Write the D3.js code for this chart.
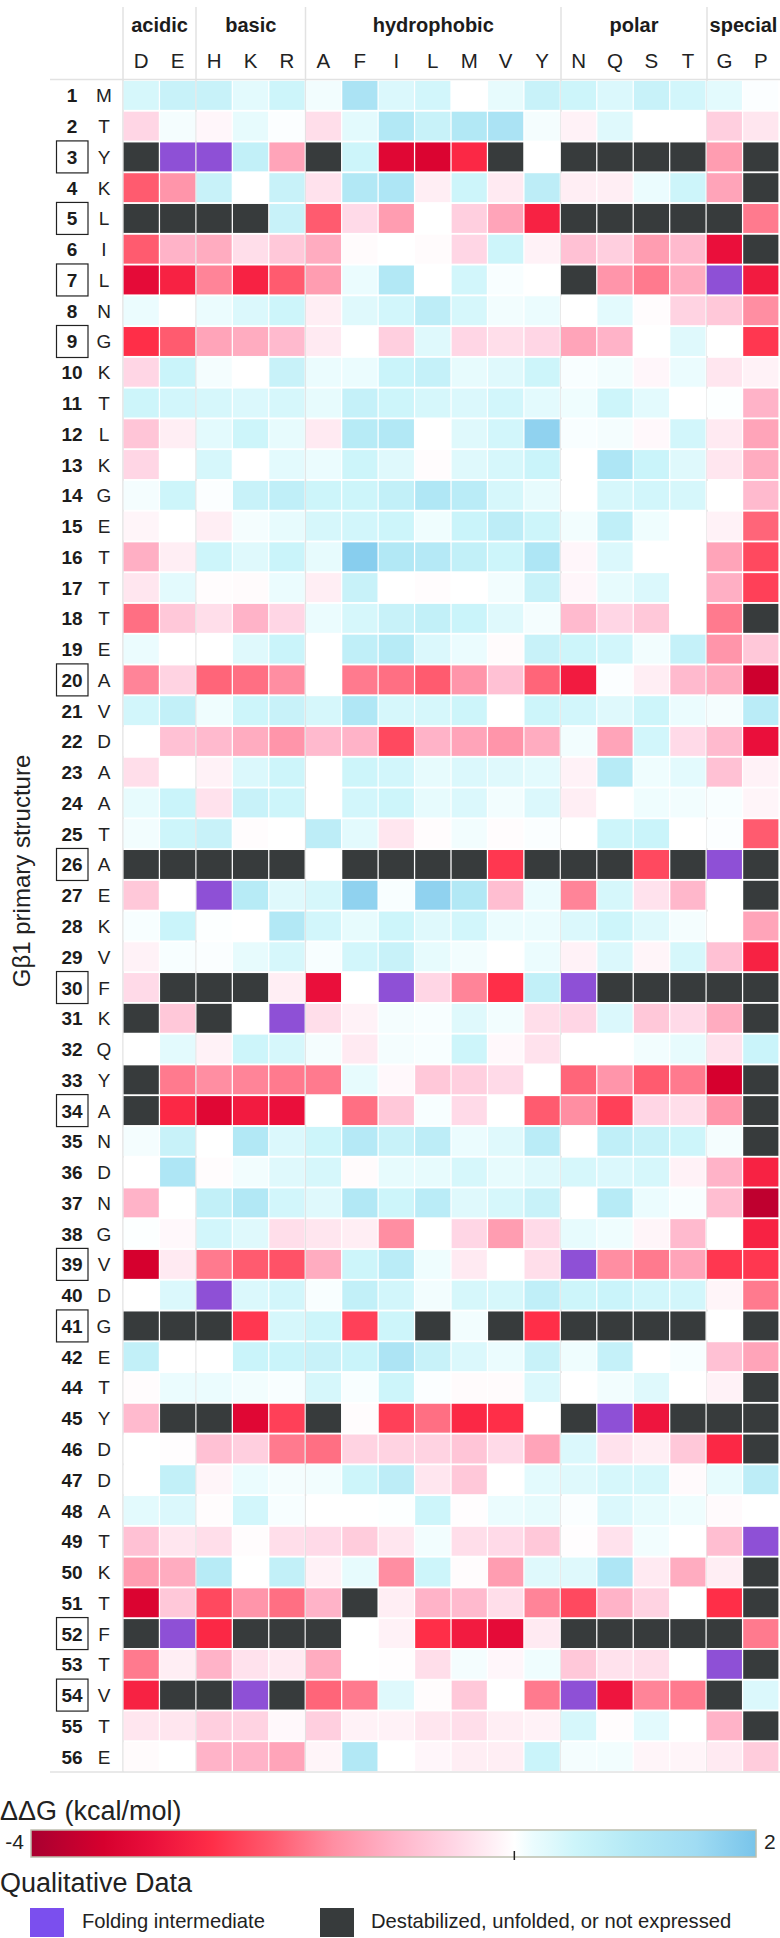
<!DOCTYPE html>
<html>
  <head>
    <meta charset="UTF-8">
    <style>
      body {
        margin: 0;
        background: white;
        font-family: "Liberation Sans", Arial, sans-serif;
        color: #222;
      }

      svg {
        display: block;
      }
    </style>
    <script src="https://d3js.org/d3.v7.min.js"></script>
  </head>

  <body>
    <svg id="chart"></svg>

    <script type="text/javascript">
      const U = 'U' // destabilized, unfolded, or not expressed
      const F = 'F' // folding intermediate

      const groupNames = ['acidic', 'basic', 'hydrophobic', 'polar', 'special']
      const groupSizes = [2, 3, 7, 4, 2]
      const mutants = ['D', 'E', 'H', 'K', 'R', 'A', 'F', 'I', 'L', 'M', 'V', 'Y', 'N', 'Q', 'S', 'T', 'G', 'P']
      const positions = [1, 2, 3, 4, 5, 6, 7, 8, 9, 10, 11, 12, 13, 14, 15, 16, 17, 18, 19, 20, 21, 22, 23, 24, 25, 26, 27, 28,
        29, 30, 31, 32, 33, 34, 35, 36, 37, 38, 39, 40, 41, 42, 44, 45, 46, 47, 48, 49, 50, 51, 52, 53, 54, 55, 56]
      const residues = ['M', 'T', 'Y', 'K', 'L', 'I', 'L', 'N', 'G', 'K', 'T', 'L', 'K', 'G', 'E', 'T', 'T', 'T', 'E', 'A', 'V', 'D', 'A', 'A', 'T', 'A', 'E', 'K',
        'V', 'F', 'K', 'Q', 'Y', 'A', 'N', 'D', 'N', 'G', 'V', 'D', 'G', 'E', 'T', 'Y', 'D', 'D', 'A', 'T', 'K', 'T', 'F', 'T', 'V', 'T', 'E']
      const boxedPositions = [3, 5, 7, 9, 20, 26, 30, 34, 39, 41, 52, 54]

      const ddG = [
        [.4, .6, .6, .25, .5, .1, 1.2, .35, .45, 0, .2, .6, .5, .35, .6, .45, .25, .03],
        [-.5, .08, -.1, .2, .03, -.4, .25, 1, .6, 1, 1.2, .08, -.15, .3, 0, 0, -.6, -.3],
        [U, F, F, .7, -1.2, U, .5, -3.2, -3.3, -2.6, U, 0, U, U, U, U, -1.3, U],
        [-2, -1.4, .6, 0, .6, -.35, 1, 1.1, -.2, .5, -.25, .8, -.2, -.2, .15, .5, -1.2, U],
        [U, U, U, U, .6, -2, -.45, -1.3, 0, -.6, -1.2, -2.7, U, U, U, U, U, -1.7],
        [-2, -1, -1.1, -.4, -.7, -1.1, -.05, 0, -.05, -.5, .5, -.15, -.8, -.6, -1.3, -.9, -3, U],
        [-3.1, -2.7, -1.6, -2.7, -2, -1.3, .15, 1, 0, .45, .05, 0, U, -1.4, -1.7, -1.1, F, -2.8],
        [.15, 0, .15, .35, .5, -.2, .3, .45, .8, .4, .1, .15, 0, .25, -.03, -.55, -.7, -1.5],
        [-2.5, -2, -1.2, -1.1, -.9, -.25, 0, -.6, .3, -.5, -.4, -.5, -1.2, -1, 0, .3, 0, -2.4],
        [-.5, .55, .08, 0, .6, .15, .15, .55, .65, .2, .3, .5, .05, .1, -.1, .15, -.3, -.15],
        [.5, .45, .4, .35, .4, .2, .65, .5, .4, .35, .45, .25, .12, .5, .25, 0, .02, -1],
        [-.75, -.2, .25, .5, .2, -.25, .9, 1, 0, .3, .45, 1.7, .05, .08, -.08, .45, -.25, -1.2],
        [-.5, 0, .4, 0, .25, .15, .5, .3, -.04, .3, .4, .55, 0, 1.1, .55, .3, -.3, -1.1],
        [.08, .5, .03, .6, .75, .5, .5, .7, 1.05, .85, .4, .2, 0, .4, .45, .4, 0, -.9],
        [-.12, 0, -.2, .08, .2, .4, .45, .5, .12, .55, .8, .5, .1, .75, .12, 0, -.15, -1.9],
        [-1.05, -.2, .5, .3, .55, .2, 1.8, 1, .95, .7, .5, 1.1, -.1, .35, 0, 0, -1.2, -2.2],
        [-.3, .25, -.03, -.05, .15, -.2, .6, 0, -.04, 0, .1, .6, -.1, .2, .35, 0, -1.05, -2.3],
        [-1.8, -.7, -.4, -1, -.5, .15, .4, .6, .7, .55, .3, .08, -.9, -.5, -.7, 0, -1.7, U],
        [.15, 0, 0, .3, .55, 0, .75, .9, .35, .15, -.05, .6, .5, .45, .1, .65, -1.4, -.7],
        [-1.6, -.55, -1.9, -1.8, -1.5, 0, -1.7, -1.8, -2, -1.4, -.8, -1.9, -2.8, .03, -.2, -.9, -1.1, -3.5],
        [.45, .7, .12, .5, .6, .4, 1.05, .4, .4, .5, 0, .5, .45, .3, .5, .15, .08, .85],
        [0, -.8, -.9, -1.1, -1.4, -.9, -1, -2.2, -1, -1.2, -1.4, -1.1, .1, -1.2, .45, -.45, -.9, -3],
        [-.4, 0, -.15, .35, .5, 0, .5, .45, .2, .35, .3, .25, -.15, .9, .12, .25, -.8, -.15],
        [.2, .55, -.35, .6, .5, 0, .45, .5, .2, .35, .1, .35, -.2, 0, .12, .1, .05, -.12],
        [.1, .5, .6, -.04, 0, .8, .25, -.3, -.04, .1, -.04, .04, 0, .5, .55, 0, .03, -2],
        [U, U, U, U, U, 0, U, U, U, U, -2.4, U, U, U, -2.2, U, F, U],
        [-.7, 0, F, .9, .3, .4, 1.7, .05, 1.7, 1, -.85, .15, -1.6, .4, -.35, -.95, 0, U],
        [.06, .55, .02, 0, 1, .45, .2, .5, .3, .45, .15, .15, .35, .5, .3, .08, 0, -1.2],
        [-.15, .06, .04, .2, .4, .06, .45, .6, .2, .1, 0, .15, -.15, .35, -.12, .4, -.8, -2.7],
        [-.45, U, U, U, -.2, -3, 0, F, -.5, -1.6, -2.5, .7, F, U, U, U, U, U],
        [U, -.7, U, 0, F, -.4, -.15, .08, .06, .3, .1, -.4, -.5, .35, -.7, -.45, -1.1, U],
        [0, .25, -.15, .5, .4, .08, -.25, .08, .06, .5, -.08, -.35, 0, 0, .1, .2, -.35, .55],
        [U, -1.7, -1.5, -1.6, -1.7, -1.7, .2, -.08, -.7, -.6, -.45, 0, -1.9, -1.4, -2, -1.7, -3.4, U],
        [U, -2.6, -3.2, -2.8, -3, 0, -1.8, -.7, .06, -.45, 0, -2, -1.5, -2.3, -.5, -.4, -1.4, U],
        [.08, .6, 0, 1, .35, .5, .95, .6, .8, .15, .3, .85, 0, .75, .6, .5, .08, U],
        [0, 1.1, -.04, .1, .3, .4, -.05, .2, .2, .4, .2, .3, .4, .35, .4, -.15, -1, -2.7],
        [-1, 0, .7, 1, .45, .3, 1, .5, .85, .3, .4, .6, 0, .9, .15, .05, -.85, -3.7],
        [.02, -.08, .45, .3, -.4, -.3, -.2, -1.5, 0, -.5, -1.3, -.45, .2, .12, -.12, -.9, 0, -2.7],
        [-3.4, -.25, -1.7, -2, -2.1, -1.1, .5, .85, .12, -.25, 0, -.4, F, -1.5, -1.7, -1.2, -2.4, -2.4],
        [0, .35, F, .35, .45, .05, .7, .45, .1, .4, .4, .75, .5, .55, .45, .45, -.12, -1.7],
        [U, U, U, -2.4, .4, .5, -2.3, .5, U, .1, U, -2.5, U, U, U, U, 0, U],
        [.7, 0, 0, .55, .55, .6, .55, 1.15, .6, .35, .15, .6, .12, .65, 0, .06, -.8, -1.2],
        [-.04, .15, .15, .1, .05, .4, .05, .5, .03, -.05, -.05, .35, 0, .1, .3, 0, -.15, U],
        [-.9, U, U, -3.2, -2.3, U, -.03, -2.3, -1.8, -2.6, -2.5, 0, U, F, -2.9, U, U, U],
        [0, -.02, -.8, -.6, -1.7, -1.8, -.55, -.55, -.55, -.75, -.45, -1.2, .35, -.35, -.2, -.7, -2.6, U],
        [0, .7, -.12, .15, .08, .1, .5, .8, -.3, -.7, 0, .25, .3, .4, .4, -.06, .2, .8],
        [.25, .35, -.04, .45, .06, 0, 0, .02, .5, -.02, .15, .2, .04, .35, .2, .12, -.06, 0],
        [-.8, -.3, -.4, -.04, -.4, -.45, -.65, -.3, .1, -.4, -.45, -.7, -.02, -.35, .1, 0, -.85, F],
        [-1.3, -1.1, .9, 0, .7, -.15, .2, -1.5, .5, -.03, -1.3, .3, .3, 1.1, -.25, -1.1, -.2, U],
        [-3.3, -.7, -2.2, -1.4, -1.8, -1, U, -.2, -1, -.9, -.4, -1.6, -2.2, -1, -.55, 0, -2.5, U],
        [U, F, -2.6, U, U, U, 0, -.15, -2.5, -2.8, -3.1, -.25, U, U, U, U, U, -1.7],
        [-1.7, -.2, -1, -.35, -.25, -1.1, 0, -.02, -.4, .08, -.1, .12, -.7, -.35, -.4, 0, F, U],
        [-2.7, U, U, F, U, -1.9, -1.7, .3, -.03, -.7, 0, -1.7, F, -2.9, -1.6, -1.7, U, .35],
        [-.3, -.3, -.6, -.55, -.08, -.6, -.15, -.15, -.3, -.4, -.2, -.15, .4, -.03, .25, 0, -1, U],
        [-.05, 0, -1, -1, -1.2, -.12, 1, 0, -.1, -.2, -.2, .55, .08, .1, -.12, -.12, -.25, -.65]
      ]

      const colorStops = [-4, -3.4, -3, -2.5, -2, -1.5, -1, -.5, -.15, 0, .15, .3, .5, 1, 1.5, 2]
      const colorValues = ['#a80030', '#d6002e', '#ea0f3b', '#ff2e48', '#ff5b6f', '#ff8ea2', '#ffb3c8', '#ffd6e5', '#fff2f7', '#ffffff', '#ebfcfe', '#dff9fc', '#cdf5fa', '#b2e8f5', '#a0dcf3', '#78c4ea']
      const legendEnds = [-4, 2]
      const legendItems = ['Folding intermediate', 'Destabilized, unfolded, or not expressed']

      const width = 780
      const height = 1938
      const margin = {top: 80, left: 123, right: 1, bottom: 166}
      const purple = '#8e50d6'
      const dark = '#373b3c'
      const gridColor = '#e2e2e2'

      const svg = d3.select('#chart')
        .attr('width', width)
        .attr('height', height)

      const xScale = d3.scaleBand()
        .domain(mutants)
        .range([margin.left, width - margin.right])
        .paddingInner(0.035)
        .paddingOuter(0.017)

      const yScale = d3.scaleBand()
        .domain(positions)
        .range([margin.top, height - margin.bottom])
        .paddingInner(0.06)
        .paddingOuter(0.03)

      const color = d3.scaleLinear()
        .domain(colorStops)
        .range(colorValues)

      function cellFill(d) {
        if (d === U) return dark
        if (d === F) return purple
        return color(d)
      }

      function drawHeader() {
        let start = 0
        let groups = groupNames.map((name, i) => {
          let g = {name, from: start, to: start + groupSizes[i]}
          start = g.to
          return g
        })

        svg.append('g').selectAll('line')
          .data(groups)
          .enter().append('line')
          .attr('x1', d => margin.left + d.from * (width - margin.left) / mutants.length)
          .attr('x2', d => margin.left + d.from * (width - margin.left) / mutants.length)
          .attr('y1', 7)
          .attr('y2', height - margin.bottom)
          .attr('stroke', gridColor)
          .attr('stroke-width', 1.5)

        svg.append('g').selectAll('text')
          .data(groups)
          .enter().append('text')
          .attr('x', d => margin.left + (d.from + d.to) / 2 * (width - margin.left) / mutants.length)
          .attr('y', 32)
          .attr('text-anchor', 'middle')
          .attr('font-size', 20)
          .attr('font-weight', 'bold')
          .attr('fill', '#1c1c1c')
          .text(d => d.name)

        let axisTop = d3.axisTop(xScale).tickSize(0).tickPadding(0)
        let axis = svg.append('g')
          .attr('transform', 'translate(0, 68)')
          .call(axisTop)
        axis.select('.domain').remove()
        axis.selectAll('text')
          .attr('font-size', 20.5)
          .attr('font-family', '"Liberation Sans", Arial, sans-serif')
          .attr('fill', '#222')

        ;[margin.top - 0.5, height - margin.bottom].forEach(y => {
          svg.append('line')
            .attr('x1', 50)
            .attr('x2', width)
            .attr('y1', y)
            .attr('y2', y)
            .attr('stroke', gridColor)
            .attr('stroke-width', 1.5)
        })
      }

      function drawCells() {
        let rows = svg.append('g').selectAll('g')
          .data(ddG)
          .enter().append('g')
          .attr('transform', (d, i) => `translate(0, ${yScale(positions[i])})`)

        rows.selectAll('rect')
          .data(d => d)
          .enter().append('rect')
          .attr('x', (d, i) => xScale(mutants[i]))
          .attr('width', xScale.bandwidth())
          .attr('height', yScale.bandwidth())
          .attr('fill', cellFill)
      }

      function drawRowLabels() {
        let labels = svg.append('g').selectAll('g')
          .data(positions)
          .enter().append('g')
          .attr('transform', d => `translate(0, ${yScale(d) + yScale.bandwidth() / 2})`)

        labels.append('text')
          .attr('x', 72)
          .attr('y', 7)
          .attr('text-anchor', 'middle')
          .attr('font-size', 19)
          .attr('font-weight', 'bold')
          .attr('fill', '#1c1c1c')
          .text(d => d)

        labels.append('text')
          .attr('x', 104)
          .attr('y', 7)
          .attr('text-anchor', 'middle')
          .attr('font-size', 19)
          .attr('fill', '#222')
          .text((d, i) => residues[i])

        labels.filter(d => boxedPositions.includes(d))
          .append('rect')
          .attr('x', 56.5)
          .attr('y', -16)
          .attr('width', 31.5)
          .attr('height', 32)
          .attr('fill', 'none')
          .attr('stroke', '#222')
          .attr('stroke-width', 1.2)

        svg.append('text')
          .attr('transform', 'translate(30, 871) rotate(-90)')
          .attr('text-anchor', 'middle')
          .attr('font-size', 24)
          .attr('fill', '#222')
          .text('G\u03b21 primary structure')
      }

      function drawLegend() {
        let barX = d3.scaleLinear().domain(legendEnds).range([31, 756])
        let barTop = 1830
        let barHeight = 27

        svg.append('text')
          .attr('x', 0)
          .attr('y', 1820)
          .attr('font-size', 27)
          .attr('fill', '#222')
          .text('\u0394\u0394G (kcal/mol)')

        let gradient = svg.append('defs').append('linearGradient')
          .attr('id', 'ddg-gradient')
        gradient.selectAll('stop')
          .data(colorStops)
          .enter().append('stop')
          .attr('offset', d => (d - legendEnds[0]) / (legendEnds[1] - legendEnds[0]))
          .attr('stop-color', (d, i) => colorValues[i])

        svg.append('rect')
          .attr('x', barX(-4))
          .attr('y', barTop)
          .attr('width', barX(2) - barX(-4))
          .attr('height', barHeight)
          .attr('fill', 'url(#ddg-gradient)')
          .attr('stroke', '#bdbfae')
          .attr('stroke-width', 1.5)

        svg.append('line')
          .attr('x1', barX(0))
          .attr('x2', barX(0))
          .attr('y1', barTop + barHeight - 6)
          .attr('y2', barTop + barHeight + 3)
          .attr('stroke', '#222')
          .attr('stroke-width', 1.5)

        svg.selectAll('.bar-end')
          .data(legendEnds)
          .enter().append('text')
          .attr('class', 'bar-end')
          .attr('x', d => d < 0 ? 24 : 764)
          .attr('y', 1849)
          .attr('text-anchor', d => d < 0 ? 'end' : 'start')
          .attr('font-size', 21)
          .attr('fill', '#222')
          .text(d => d)

        svg.append('text')
          .attr('x', 0)
          .attr('y', 1892)
          .attr('font-size', 27)
          .attr('fill', '#222')
          .text('Qualitative Data')

        let items = svg.selectAll('.legend-item')
          .data(legendItems)
          .enter().append('g')
          .attr('class', 'legend-item')
          .attr('transform', (d, i) => `translate(${i === 0 ? 30 : 320}, 1908)`)

        items.append('rect')
          .attr('width', 34)
          .attr('height', 29)
          .attr('fill', (d, i) => i === 0 ? '#7b4fee' : dark)

        items.append('text')
          .attr('x', (d, i) => i === 0 ? 52 : 51)
          .attr('y', 20)
          .attr('font-size', 20.2)
          .attr('fill', '#222')
          .text(d => d)
      }

      drawHeader()
      drawCells()
      drawRowLabels()
      drawLegend()
    </script>
  </body>
</html>
